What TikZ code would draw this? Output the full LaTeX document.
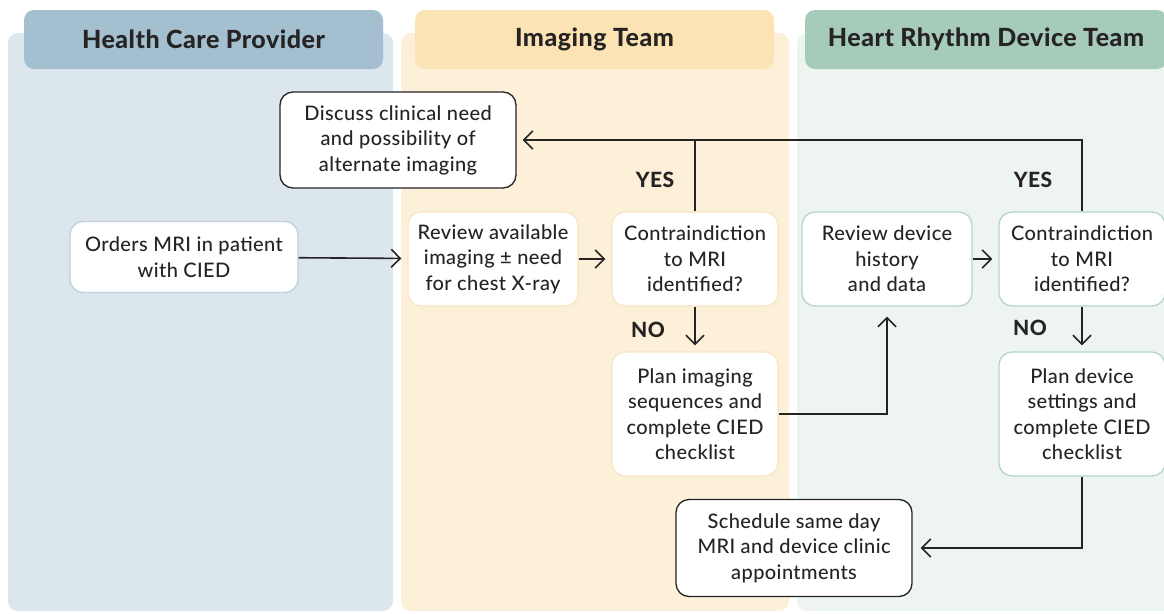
\documentclass[tikz,border=0pt]{standalone}
\usepackage{fontspec}
\setmainfont{Lato}[UprightFont=* Medium,BoldFont=* Heavy,LetterSpace=2]
\usepackage{tikz}
\usetikzlibrary{arrows.meta,positioning}
\definecolor{headA}{HTML}{A4BFCF}
\definecolor{laneA}{HTML}{DCE6ED}
\definecolor{headB}{HTML}{FCE3B3}
\definecolor{laneB}{HTML}{FDF0D8}
\definecolor{headC}{HTML}{A7CBBB}
\definecolor{laneC}{HTML}{EEF5F1}
\definecolor{edgeA}{HTML}{BFD1DE}
\definecolor{edgeB}{HTML}{F8E6C4}
\definecolor{edgeC}{HTML}{B4D5C7}
\definecolor{inkc}{HTML}{262324}
\tikzset{
  ar/.style={-{Straight Barb[length=9pt,width=18pt,line width=1.6pt]},line width=1.6pt,inkc,shorten >=6pt},
  ln/.style={line width=1.6pt,inkc},
  head/.style={rounded corners=10pt,minimum width=359pt,minimum height=59pt,font=\fontsize{25}{28}\selectfont\bfseries,text=inkc},
  box/.style={line width=1.3pt,rounded corners=13pt,fill=white,align=center,text=inkc,font=\fontsize{20}{25.5}\selectfont},
  lbl/.style={font=\fontsize{21}{22}\selectfont\bfseries,text=inkc}
}
\begin{document}
\begin{tikzpicture}[x=1pt,y=-1pt]
\useasboundingbox (0,0) rectangle (1164,613);
% swim lanes
\fill[laneA,rounded corners=10pt] (8,33) rectangle (393,611);
\fill[laneB,rounded corners=10pt] (401,33) rectangle (789,611);
\fill[laneC,rounded corners=10pt] (797,33) rectangle (1175,611);
\node[head,fill=headA] (hcp) at (203.5,39.5) {Health Care Provider};
\node[head,fill=headB] (img) at (594.5,39.5) {Imaging Team};
\node[head,fill=headC,minimum width=362pt] (dev) at (986,39.5) {Heart Rhythm Device Team};
% steps
\node[box,draw=inkc,minimum width=236pt,minimum height=96pt] (discuss) at (398,140) {Discuss clinical need\\and possibility of\\alternate imaging};
\node[box,draw=edgeA,minimum width=228pt,minimum height=71pt] (order) at (184,257) {Orders MRI in patient\\with CIED};
\node[box,draw=edgeB,minimum width=170pt,minimum height=94pt] (revimg) at (493,259) {Review available\\imaging \textpm{} need\\for chest X-ray};
\node[box,draw=edgeB,minimum width=166pt,minimum height=94pt] (ciimg) at (695,259) {Contraindiction\\to MRI\\identified?};
\node[box,draw=edgeB,minimum width=166pt,minimum height=124pt] (planimg) at (695,414) {Plan imaging\\sequences and\\complete CIED\\checklist};
\node[box,draw=edgeC,minimum width=170pt,minimum height=94pt] (revdev) at (887,259) {Review device\\history\\and data};
\node[box,draw=edgeC,minimum width=166pt,minimum height=94pt] (cidev) at (1082,259) {Contraindiction\\to MRI\\identified?};
\node[box,draw=edgeC,minimum width=166pt,minimum height=124pt] (plandev) at (1082,414) {Plan device\\settings and\\complete CIED\\checklist};
\node[box,draw=inkc,minimum width=236pt,minimum height=97pt] (sched) at (794,548) {Schedule same day\\MRI and device clinic\\appointments};
% labels
\node[lbl] (yesA) at (655,180) {YES};
\node[lbl] (yesB) at (1033,180) {YES};
\node[lbl] (noA) at (648,330) {NO};
\node[lbl] (noB) at (1030,328) {NO};
% connectors
\draw[ar] (order) -- (revimg);
\draw[ar] (revimg) -- (ciimg);
\draw[ar] (cidev.north) |- (discuss.east);
\draw[ln] (ciimg.north) -- (ciimg.north |- discuss.east);
\draw[ar] (ciimg) -- (planimg);
\draw[ar,shorten >=10pt] (planimg.east) -| (revdev.south);
\draw[ar] (revdev) -- (cidev);
\draw[ar] (cidev) -- (plandev);
\draw[ar,shorten >=8pt] (plandev.south) |- (sched.east);
\end{tikzpicture}
\end{document}
